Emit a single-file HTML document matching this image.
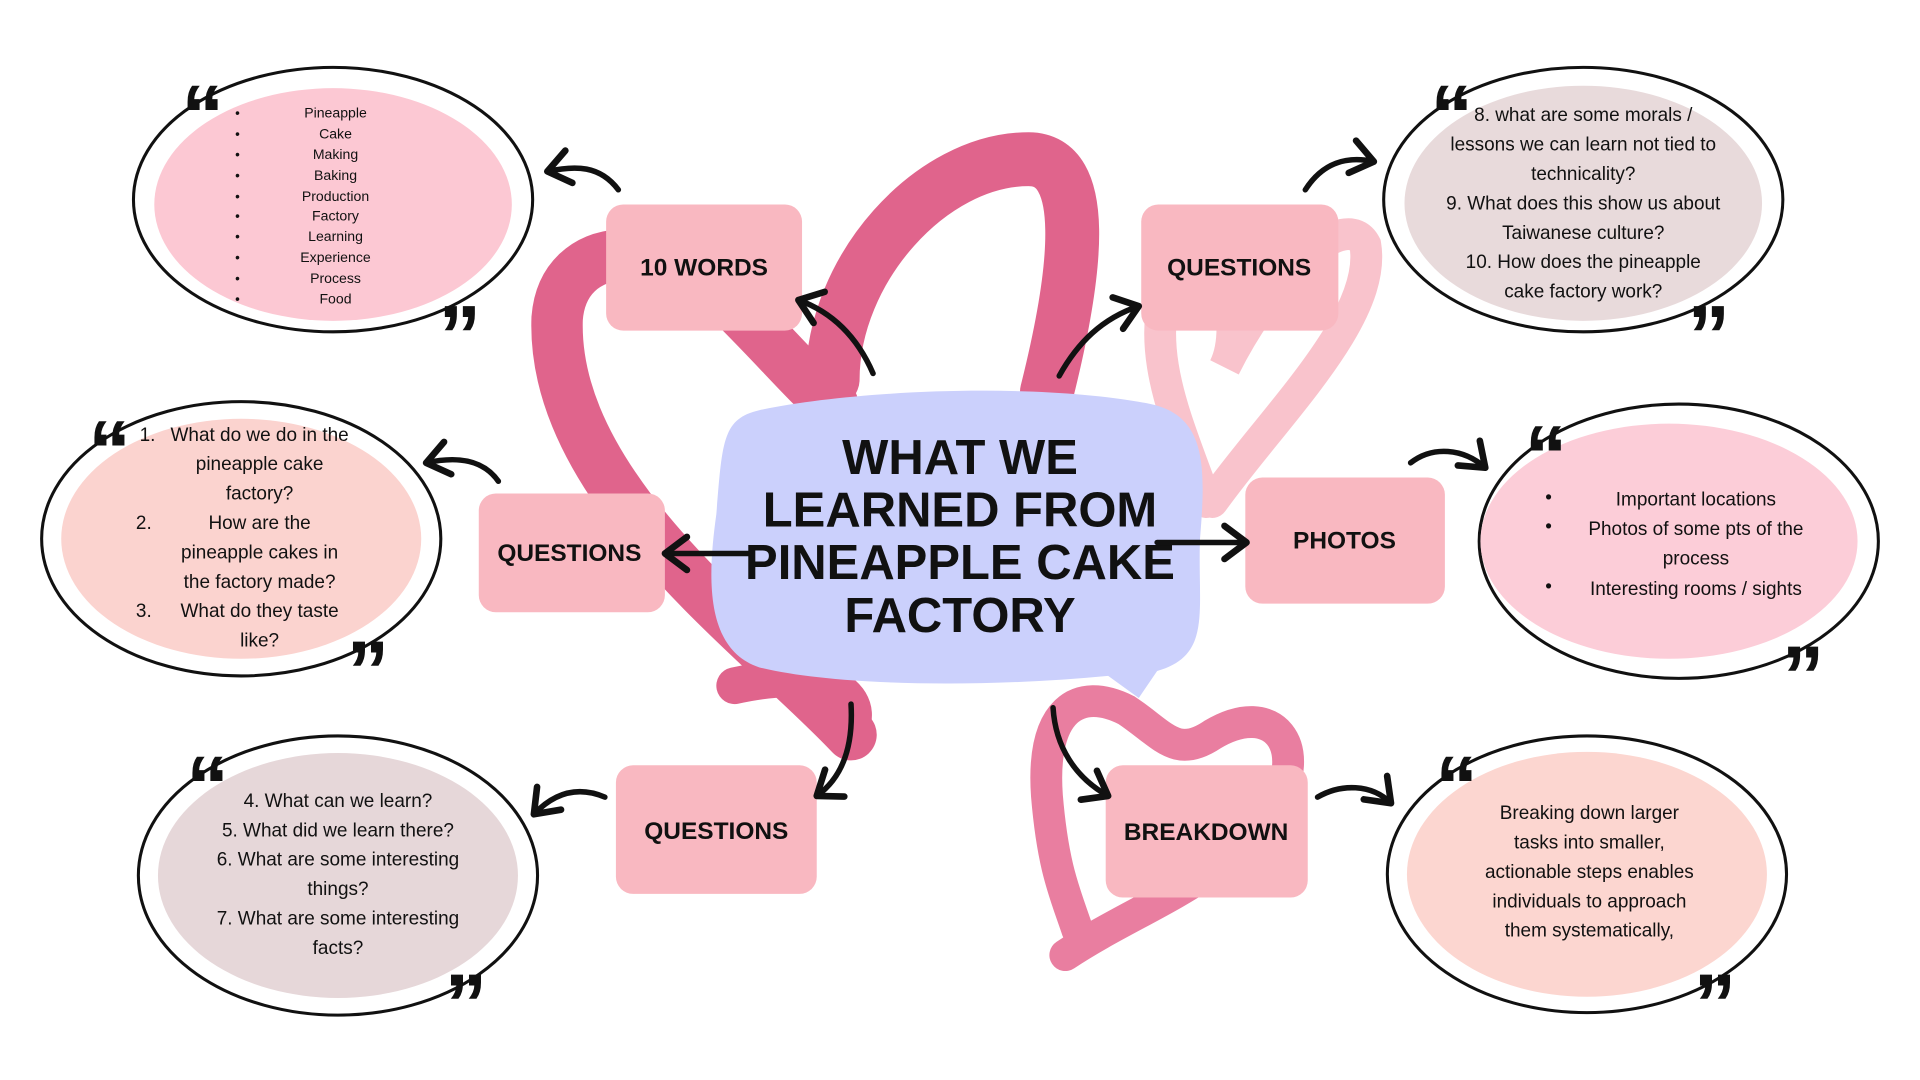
<!DOCTYPE html>
<html><head><meta charset="utf-8"><style>
html,body{margin:0;padding:0;background:#fff;width:1920px;height:1080px;overflow:hidden}
svg{display:block}
.t{font-family:"Liberation Sans",sans-serif;fill:#111}
.h{font-family:"Liberation Sans",sans-serif;font-weight:bold;fill:#111}
.q{font-family:"Liberation Sans",sans-serif;font-weight:bold;fill:#111;font-size:70px}
</style></head><body>
<svg width="1920" height="1080" viewBox="0 0 1568 882" preserveAspectRatio="none">
<defs>
<marker id="a" markerWidth="8" markerHeight="8" refX="5" refY="4" orient="auto" markerUnits="strokeWidth">
<path d="M1,1 L5,4 L1,7" fill="none" stroke="#111" stroke-width="1.2" stroke-linecap="round" stroke-linejoin="round"/>
</marker>
</defs>
<path d="M695 600 C620 520 450 400 455 260 C460 195 540 190 600 250 C640 290 665 320 680 330" fill="none" stroke="#e0648c" stroke-width="42" stroke-linecap="round"/>
<path d="M600 560 C690 540 710 580 690 600" fill="none" stroke="#e0648c" stroke-width="30" stroke-linecap="round"/>
<path d="M680 310 C680 220 760 130 840 130 C890 130 880 220 855 320" fill="none" stroke="#e0648c" stroke-width="44" stroke-linecap="round"/>
<path d="M985 410 C960 340 930 280 960 215 C990 170 1020 260 1000 300 C1040 220 1100 170 1115 200 C1125 260 1040 340 990 410" fill="none" stroke="#f9c3cc" stroke-width="26" stroke-linecap="round"/>
<path d="M870 780 C930 740 1000 720 1040 660 C1070 610 1040 570 990 600 C960 620 950 600 920 580 C880 560 850 580 855 650 C860 710 870 730 880 760" fill="none" stroke="#e97ea0" stroke-width="26" stroke-linecap="round"/>
<path d="M620 335 C700 318 850 312 940 330 C985 340 985 380 980 440 C978 500 990 535 945 548 L930 570 L905 552 C800 562 680 560 620 545 C575 530 578 470 585 420 C590 360 590 342 620 335 Z" fill="#cbd0fc"/>
<g class="h" font-size="40" text-anchor="middle">
<text x="784" y="387">WHAT WE</text>
<text x="784" y="430">LEARNED FROM</text>
<text x="784" y="473">PINEAPPLE CAKE</text>
<text x="784" y="516">FACTORY</text>
</g>
<g fill="#f9b8c1">
<rect x="495" y="167" width="160" height="103" rx="14"/>
<rect x="932" y="167" width="161" height="103" rx="14"/>
<rect x="391" y="403" width="152" height="97" rx="14"/>
<rect x="1017" y="390" width="163" height="103" rx="14"/>
<rect x="503" y="625" width="164" height="105" rx="14"/>
<rect x="903" y="625" width="165" height="108" rx="14"/>
</g>
<g class="h" font-size="20" text-anchor="middle">
<text x="575" y="225">10 WORDS</text>
<text x="1012" y="225">QUESTIONS</text>
<text x="465" y="458">QUESTIONS</text>
<text x="1098" y="448">PHOTOS</text>
<text x="585" y="685">QUESTIONS</text>
<text x="985" y="686">BREAKDOWN</text>
</g>
<g stroke="#111" stroke-width="2.5">
<ellipse cx="272" cy="163" rx="163" ry="108" fill="#fff"/>
<ellipse cx="1293" cy="163" rx="163" ry="108" fill="#fff"/>
<ellipse cx="197" cy="440" rx="163" ry="112" fill="#fff"/>
<ellipse cx="1371" cy="442" rx="163" ry="112" fill="#fff"/>
<ellipse cx="276" cy="715" rx="163" ry="114" fill="#fff"/>
<ellipse cx="1296" cy="714" rx="163" ry="113" fill="#fff"/>
</g>
<ellipse cx="272" cy="167" rx="146" ry="95" fill="#fcc8d3"/>
<ellipse cx="1293" cy="166" rx="146" ry="96" fill="#e8dadb"/>
<ellipse cx="197" cy="440" rx="147" ry="98" fill="#fbd3cf"/>
<ellipse cx="1363" cy="442" rx="154" ry="96" fill="#fccdd8"/>
<ellipse cx="276" cy="715" rx="147" ry="100" fill="#e6d7d9"/>
<ellipse cx="1296" cy="714" rx="147" ry="100" fill="#fcd6d0"/>
<g class="q">
<text x="148" y="118">“</text><text x="358" y="298">”</text>
<text x="1168" y="118">“</text><text x="1378" y="298">”</text>
<text x="72" y="392">“</text><text x="283" y="572">”</text>
<text x="1245" y="396">“</text><text x="1455" y="576">”</text>
<text x="152" y="666">“</text><text x="363" y="844">”</text>
<text x="1172" y="666">“</text><text x="1383" y="844">”</text>
</g>
<g class="t" font-size="11.5" text-anchor="middle">
<text x="274" y="96">Pineapple</text><text x="274" y="113">Cake</text><text x="274" y="130">Making</text>
<text x="274" y="147">Baking</text><text x="274" y="164">Production</text><text x="274" y="180">Factory</text>
<text x="274" y="197">Learning</text><text x="274" y="214">Experience</text><text x="274" y="231">Process</text>
<text x="274" y="248">Food</text>
</g>
<g class="t" font-size="11">
<text x="192" y="96">•</text><text x="192" y="113">•</text><text x="192" y="130">•</text><text x="192" y="147">•</text><text x="192" y="164">•</text><text x="192" y="180">•</text><text x="192" y="197">•</text><text x="192" y="214">•</text><text x="192" y="231">•</text><text x="192" y="248">•</text>
</g>
<g class="t" font-size="15.5" text-anchor="middle">
<text x="1293" y="99">8. what are some morals /</text>
<text x="1293" y="123">lessons we can learn not tied to</text>
<text x="1293" y="147">technicality?</text>
<text x="1293" y="171">9. What does this show us about</text>
<text x="1293" y="195">Taiwanese culture?</text>
<text x="1293" y="219">10. How does the pineapple</text>
<text x="1293" y="243">cake factory work?</text>
<text x="212" y="360">What do we do in the</text>
<text x="212" y="384">pineapple cake</text>
<text x="212" y="408">factory?</text>
<text x="212" y="432">How are the</text>
<text x="212" y="456">pineapple cakes in</text>
<text x="212" y="480">the factory made?</text>
<text x="212" y="504">What do they taste</text>
<text x="212" y="528">like?</text>
<text x="1385" y="413">Important locations</text>
<text x="1385" y="437">Photos of some pts of the</text>
<text x="1385" y="461">process</text>
<text x="1385" y="486">Interesting rooms / sights</text>
<text x="276" y="659">4. What can we learn?</text>
<text x="276" y="683">5. What did we learn there?</text>
<text x="276" y="707">6. What are some interesting</text>
<text x="276" y="731">things?</text>
<text x="276" y="755">7. What are some interesting</text>
<text x="276" y="779">facts?</text>
<text x="1298" y="669">Breaking down larger</text>
<text x="1298" y="693">tasks into smaller,</text>
<text x="1298" y="717">actionable steps enables</text>
<text x="1298" y="741">individuals to approach</text>
<text x="1298" y="765">them systematically,</text>
</g>
<g class="t" font-size="15.5">
<text x="114" y="360">1.</text><text x="111" y="432">2.</text><text x="111" y="504">3.</text>
<text x="1262" y="411">•</text><text x="1262" y="435">•</text><text x="1262" y="484">•</text>
</g>
<g fill="none" stroke="#111" stroke-width="4.5" stroke-linecap="round" marker-end="url(#a)">
<path d="M713 305 C700 275 680 255 652 245"/>
<path d="M865 307 C880 280 900 260 930 250"/>
<path d="M612 452 L543 452"/>
<path d="M945 443 L1018 443"/>
<path d="M695 575 C697 610 688 635 667 650"/>
<path d="M860 578 C862 610 878 635 905 650"/>
<path d="M505 155 C490 135 470 135 447 140"/>
<path d="M1066 155 C1080 133 1100 127 1122 132"/>
<path d="M407 393 C395 376 375 372 348 378"/>
<path d="M1152 378 C1170 364 1195 366 1213 382"/>
<path d="M494 651 C475 643 455 645 436 665"/>
<path d="M1076 651 C1095 640 1120 640 1136 656"/>
</g>
</svg>
</body></html>
